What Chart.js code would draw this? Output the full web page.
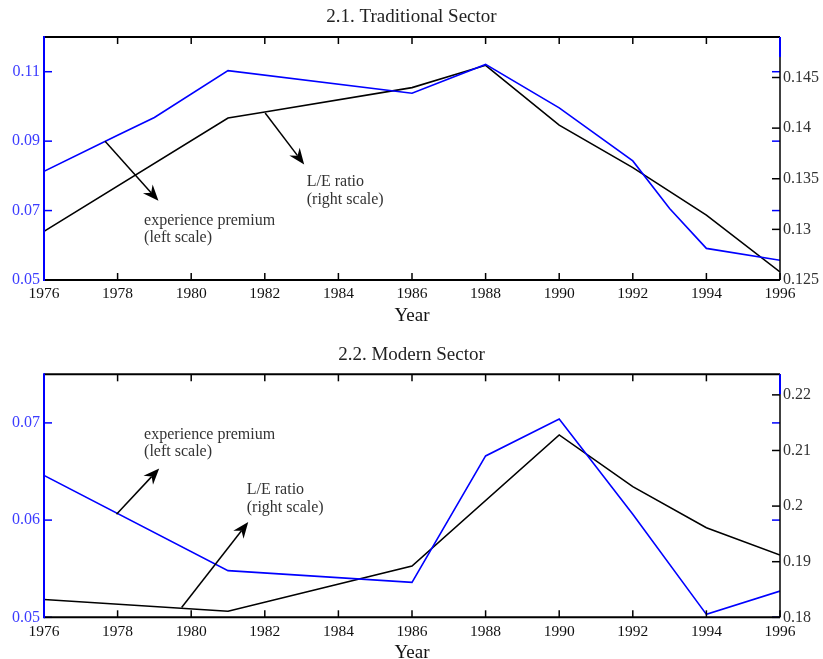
<!DOCTYPE html>
<html>
<head>
<meta charset="utf-8">
<script src="https://cdn.jsdelivr.net/npm/chart.js@4.4.1/dist/chart.umd.min.js"></script>
<style>
  html, body { margin: 0; padding: 0; background: #fff; overflow: hidden; }
  .panel { position: absolute; left: 0; width: 823px; }
  #top { top: 0; height: 330px; }
  #bottom { top: 330px; height: 340px; }
</style>
</head>
<body>
<div class="panel" id="top"><canvas id="tradChart" width="823" height="330"></canvas></div>
<div class="panel" id="bottom"><canvas id="modernChart" width="823" height="340"></canvas></div>
<script>
// shared x axis
const xTicks = [1976, 1978, 1980, 1982, 1984, 1986, 1988, 1990, 1992, 1994, 1996];

// 2.1. Traditional Sector
const tradPremiumYears = [1976, 1978, 1979, 1981, 1986, 1988, 1990, 1992, 1993, 1994, 1996];
const tradPremium = [0.0813, 0.0917, 0.0968, 0.1103, 0.1038, 0.1121, 0.0996, 0.0843, 0.0706, 0.0591, 0.0557];
const tradRatioYears = [1976, 1981, 1982, 1986, 1988, 1990, 1992, 1994, 1996];
const tradRatio = [0.1298, 0.1410, 0.1416, 0.1440, 0.1462, 0.1403, 0.1361, 0.1314, 0.1258];
const tradLeftTicks = [0.05, 0.07, 0.09, 0.11];
const tradRightTicks = [0.125, 0.13, 0.135, 0.14, 0.145];

// 2.2. Modern Sector
const modernPremiumYears = [1976, 1981, 1986, 1988, 1990, 1992, 1994, 1996];
const modernPremium = [0.0646, 0.0548, 0.0536, 0.0666, 0.0704, 0.0606, 0.0503, 0.0527];
const modernRatioYears = [1976, 1981, 1986, 1990, 1992, 1994, 1996];
const modernRatio = [0.1832, 0.1811, 0.1892, 0.2128, 0.2035, 0.1961, 0.1912];
const modernLeftTicks = [0.05, 0.06, 0.07];
const modernRightTicks = [0.18, 0.19, 0.2, 0.21, 0.22];

const BLUE = '#0000ff';
const SERIF = '"Liberation Serif", "DejaVu Serif", serif';

function line(ctx, x1, y1, x2, y2) {
    ctx.beginPath();
    ctx.moveTo(x1, y1);
    ctx.lineTo(x2, y2);
    ctx.stroke();
}

function arrow(ctx, x1, y1, x2, y2) {
    const ang = Math.atan2(y2 - y1, x2 - x1);
    const len = 16, half = 6.5;
    const bx = x2 - len * Math.cos(ang), by = y2 - len * Math.sin(ang);
    const nx = x2 - (len - 5) * Math.cos(ang), ny = y2 - (len - 5) * Math.sin(ang);
    line(ctx, x1, y1, nx, ny);
    ctx.beginPath();
    ctx.moveTo(x2, y2);
    ctx.lineTo(bx - half * Math.sin(ang), by + half * Math.cos(ang));
    ctx.lineTo(nx, ny);
    ctx.lineTo(bx + half * Math.sin(ang), by - half * Math.cos(ang));
    ctx.closePath();
    ctx.fill();
}

// frame, inward ticks, arrows and notes
const framePlugin = {
    id: 'frame',
    afterDraw(chart, args, opts) {
        const {ctx, chartArea: a, scales} = chart;
        const x = scales.x, yl = scales.yLeft, yr = scales.yRight;
        ctx.save();
        ctx.lineCap = 'butt';

        ctx.strokeStyle = '#000';
        ctx.lineWidth = 1.5;
        xTicks.forEach(v => {
            const px = x.getPixelForValue(v);
            line(ctx, px, a.top, px, a.top + 7);
            line(ctx, px, a.bottom, px, a.bottom - 7);
        });
        yr.ticks.forEach(t => {
            const py = yr.getPixelForValue(t.value);
            line(ctx, a.right, py, a.right - 8, py);
        });
        ctx.strokeStyle = BLUE;
        yl.ticks.forEach(t => {
            const py = yl.getPixelForValue(t.value);
            line(ctx, a.left, py, a.left + 8, py);
            line(ctx, a.right, py, a.right - 8, py);
        });

        // borders
        ctx.strokeStyle = '#000';
        ctx.lineWidth = 2;
        line(ctx, a.left, a.top, a.right, a.top);
        line(ctx, a.left, a.bottom, a.right, a.bottom);
        ctx.lineWidth = 1.5;
        line(ctx, a.right, a.top, a.right, a.bottom);
        ctx.strokeStyle = BLUE;
        ctx.lineWidth = 2;
        line(ctx, a.left, a.top - 1, a.left, a.bottom + 1);
        line(ctx, a.right, a.top, a.right, a.top + 20);

        ctx.strokeStyle = '#000';
        ctx.fillStyle = '#000';
        ctx.lineWidth = 1.5;
        opts.arrows.forEach(ar => {
            arrow(ctx, x.getPixelForValue(ar[0]), yl.getPixelForValue(ar[1]),
                x.getPixelForValue(ar[2]), yl.getPixelForValue(ar[3]));
        });

        ctx.fillStyle = '#333';
        ctx.font = '16px ' + SERIF;
        ctx.textAlign = 'left';
        ctx.textBaseline = 'middle';
        opts.notes.forEach(n => {
            ctx.fillText(n.text, x.getPixelForValue(n.x), yl.getPixelForValue(n.y));
        });
        ctx.restore();
    }
};

function points(xs, ys) {
    return xs.map((v, i) => ({x: v, y: ys[i]}));
}

function buildChart(id, o) {
    return new Chart(document.getElementById(id), {
        type: 'line',
        data: {
            datasets: [{
                label: 'experience premium (left scale)',
                data: points(o.premiumYears, o.premium),
                borderColor: BLUE,
                borderWidth: 1.6,
                pointRadius: 0,
                yAxisID: 'yLeft'
            }, {
                label: 'L/E ratio (right scale)',
                data: points(o.ratioYears, o.ratio),
                borderColor: '#000',
                borderWidth: 1.6,
                pointRadius: 0,
                yAxisID: 'yRight'
            }]
        },
        options: {
            responsive: false,
            animation: false,
            layout: {padding: 0},
            plugins: {
                legend: {display: false},
                tooltip: {enabled: false},
                title: {
                    display: true,
                    text: o.title,
                    color: '#222',
                    font: {family: SERIF, size: 19, weight: 'normal'},
                    padding: o.titlePadding
                },
                frame: {arrows: o.arrows, notes: o.notes}
            },
            scales: {
                x: {
                    type: 'linear',
                    min: 1976,
                    max: 1996,
                    afterBuildTicks: s => { s.ticks = xTicks.map(v => ({value: v})); },
                    afterFit: s => { s.height = o.xHeight; },
                    ticks: {
                        color: '#111',
                        font: {family: SERIF, size: 15.5},
                        padding: 5,
                        maxRotation: 0,
                        autoSkip: false,
                        callback: v => String(v)
                    },
                    grid: {display: false, drawTicks: false},
                    border: {display: false},
                    title: {
                        display: true,
                        text: 'Year',
                        color: '#111',
                        font: {family: SERIF, size: 19},
                        padding: {top: 0, bottom: o.yearPadding}
                    }
                },
                yLeft: {
                    position: 'left',
                    min: o.leftMin,
                    max: o.leftMax,
                    afterBuildTicks: s => { s.ticks = o.leftTicks.map(v => ({value: v})); },
                    afterFit: s => { s.width = 44; },
                    ticks: {
                        color: '#3c3cff',
                        font: {family: SERIF, size: 16},
                        padding: 4,
                        callback: v => String(v)
                    },
                    grid: {display: false, drawTicks: false},
                    border: {display: false}
                },
                yRight: {
                    position: 'right',
                    min: o.rightMin,
                    max: o.rightMax,
                    afterBuildTicks: s => { s.ticks = o.rightTicks.map(v => ({value: v})); },
                    afterFit: s => { s.width = 43; },
                    ticks: {
                        color: '#333',
                        font: {family: SERIF, size: 16},
                        padding: 3,
                        callback: v => String(v)
                    },
                    grid: {display: false, drawTicks: false},
                    border: {display: false}
                }
            }
        },
        plugins: [framePlugin]
    });
}

buildChart('tradChart', {
    title: '2.1. Traditional Sector',
    titlePadding: {top: 5.6, bottom: 8.6},
    xHeight: 50,
    yearPadding: 2.6,
    premiumYears: tradPremiumYears, premium: tradPremium,
    ratioYears: tradRatioYears, ratio: tradRatio,
    leftMin: 0.05, leftMax: 0.12, leftTicks: tradLeftTicks,
    rightMin: 0.125, rightMax: 0.149, rightTicks: tradRightTicks,
    arrows: [
        [1977.66, 0.0900, 1979.11, 0.0728],
        [1982.01, 0.0981, 1983.07, 0.0833]
    ],
    notes: [
        {text: 'experience premium', x: 1978.72, y: 0.0670},
        {text: '(left scale)', x: 1978.72, y: 0.0621},
        {text: 'L/E ratio', x: 1983.14, y: 0.0783},
        {text: '(right scale)', x: 1983.14, y: 0.0730}
    ]
});

buildChart('modernChart', {
    title: '2.2. Modern Sector',
    titlePadding: {top: 14.1, bottom: 7.4},
    xHeight: 52.7,
    yearPadding: 5.3,
    premiumYears: modernPremiumYears, premium: modernPremium,
    ratioYears: modernRatioYears, ratio: modernRatio,
    leftMin: 0.05, leftMax: 0.075, leftTicks: modernLeftTicks,
    rightMin: 0.18, rightMax: 0.2237, rightTicks: modernRightTicks,
    arrows: [
        [1977.97, 0.0606, 1979.13, 0.0653],
        [1979.74, 0.0510, 1981.55, 0.0598]
    ],
    notes: [
        {text: 'experience premium', x: 1978.72, y: 0.0688},
        {text: '(left scale)', x: 1978.72, y: 0.0670},
        {text: 'L/E ratio', x: 1981.51, y: 0.0631},
        {text: '(right scale)', x: 1981.51, y: 0.0613}
    ]
});
</script>
</body>
</html>
